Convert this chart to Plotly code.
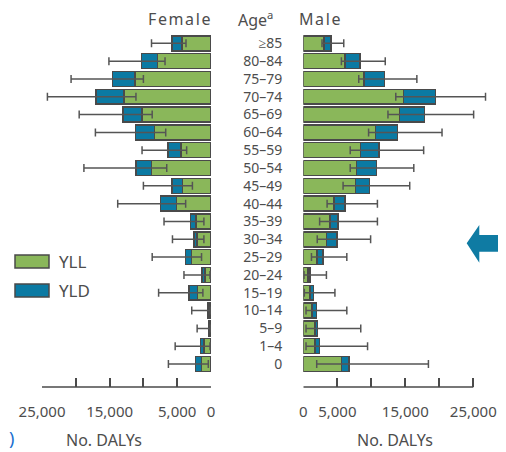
import plotly.graph_objects as go

# ---------------- data (top row first) ----------------
ages = ["≥85", "80–84", "75–79", "70–74", "65–69", "60–64", "55–59", "50–54",
        "45–49", "40–44", "35–39", "30–34", "25–29", "20–24", "15–19",
        "10–14", "5–9", "1–4", "0"]

female_yll = [4300, 7950, 11250, 12900, 10200, 8350, 4450, 8800, 4200, 5100,
              2200, 2050, 2850, 900, 2000, 300, 250, 1050, 1400]
female_yld = [1500, 2300, 3300, 4100, 2850, 2800, 1900, 2300, 1550, 2350,
              800, 450, 900, 400, 1250, 180, 130, 500, 900]
female_lo = [3700, 6800, 10000, 11100, 8700, 6700, 3600, 6550, 2750, 3750,
             1050, 1050, 1400, 150, 1200, 100, 100, 150, 400]
female_hi = [8800, 15100, 20700, 24200, 19500, 17100, 10200, 18800, 10000, 13800,
             6950, 5700, 8700, 4000, 7750, 2850, 2050, 5300, 6300]

male_yll = [3050, 6150, 8900, 14750, 14150, 10600, 8400, 7800, 7650, 4500,
            3900, 3400, 2000, 700, 1000, 1300, 1700, 1700, 5650]
male_yld = [1000, 2200, 3050, 4700, 3700, 3250, 2750, 2950, 2100, 1600,
            1200, 1550, 900, 250, 500, 650, 400, 650, 1100]
male_lo = [2750, 5600, 8150, 13600, 12450, 9600, 6900, 6900, 5850, 3500,
           2400, 2050, 1200, 100, 150, 400, 400, 400, 1970]
male_hi = [5950, 12050, 16700, 26800, 25050, 20400, 17700, 16250, 15650, 10900,
           10900, 9900, 6400, 3400, 4650, 6400, 8450, 9450, 18400]

label_vals = [0, 5000, 15000, 25000]
label_text = ["0", "5,000", "15,000", "25,000"]
minor_vals = [10000, 20000]

# ---------------- styling ----------------
OFF = 8                      # default page margin around the figure
W, H = 506 - OFF, 452 - OFF
GREEN = "#8ab75a"
BLUE = "#0b7aa3"
EDGE = "#4a4a4a"
TXT = "#4d4d4d"
FONT = "Noto Sans"

def px(x):
    return (x - OFF) / W

def py(y):
    return 1 - (y - OFF) / H

fig = go.Figure()

def add_side(yll, yld, lo, hi, xa, ya):
    total = [a + b for a, b in zip(yll, yld)]
    fig.add_trace(go.Bar(y=ages, x=yll, orientation="h", marker_color=GREEN,
                         marker_line=dict(color=EDGE, width=1.5), xaxis=xa, yaxis=ya,
                         showlegend=False, name="YLL"))
    fig.add_trace(go.Bar(y=ages, x=yld, orientation="h", marker_color=BLUE,
                         marker_line=dict(color=EDGE, width=1.5), xaxis=xa, yaxis=ya,
                         showlegend=False, name="YLD"))
    fig.add_trace(go.Scatter(
        y=ages, x=total, mode="markers", marker=dict(size=1, opacity=0),
        xaxis=xa, yaxis=ya, showlegend=False, hoverinfo="skip",
        error_x=dict(type="data", symmetric=False,
                     array=[h - t for h, t in zip(hi, total)],
                     arrayminus=[t - l for t, l in zip(total, lo)],
                     color="#555555", thickness=1.5, width=4)))

add_side(female_yll, female_yld, female_lo, female_hi, "x", "y")
add_side(male_yll, male_yld, male_lo, male_hi, "x2", "y2")

ydom = [py(387), py(34.4)]
yrange = [-1.29, 18.5]
cat_bottom_up = ages[::-1]

axis_font = dict(family=FONT, size=15, color=TXT)

def xaxis_style(domain, rng, anchor):
    return dict(domain=domain, range=rng, tickmode="array", tickvals=label_vals,
                ticktext=label_text, ticks="inside", ticklen=9, tickwidth=1.5,
                tickcolor=EDGE, showgrid=False, zeroline=False, showline=False,
                tickfont=axis_font, ticklabelstandoff=14, anchor=anchor,
                automargin=False,
                minor=dict(tickmode="array", tickvals=minor_vals, ticks="inside",
                           ticklen=9, tickwidth=1.5, tickcolor=EDGE, showgrid=False))

fig.update_layout(
    width=W, height=H, margin=dict(l=0, r=0, t=0, b=0, autoexpand=False),
    paper_bgcolor="white", plot_bgcolor="white",
    barmode="stack", bargap=0.16,
    font=dict(family=FONT, color=TXT),
    xaxis=xaxis_style([px(42), px(211)], [25000, 0], "y"),
    xaxis2=xaxis_style([px(303.3), px(303.3 + 27000 / 25000 * 170)], [0, 27000], "y2"),
    yaxis=dict(domain=ydom, type="category", categoryorder="array",
               categoryarray=cat_bottom_up, range=yrange, showticklabels=False,
               showgrid=False, zeroline=False, showline=False, ticks="", anchor="x",
               automargin=False),
    yaxis2=dict(domain=ydom, type="category", categoryorder="array",
                categoryarray=cat_bottom_up, range=yrange, showticklabels=True,
                tickmode="array", tickvals=ages, ticktext=ages,
                showgrid=False, zeroline=False, showline=False, ticks="",
                tickfont=dict(family=FONT, size=14, color=TXT),
                ticklabelstandoff=20, anchor="x2", automargin=False),
)

# axis base lines (0 to 25,000 on each side)
for xr in ("x", "x2"):
    fig.add_shape(type="line", xref=xr, yref="paper", x0=0, x1=25000,
                  y0=ydom[0], y1=ydom[0], line=dict(color=EDGE, width=1.5))

# headers and axis titles
def note(text, x, y, size=15, anchor="left", color=TXT):
    fig.add_annotation(text=text, x=px(x), y=py(y), xref="paper", yref="paper",
                       xanchor=anchor, yanchor="middle", showarrow=False,
                       font=dict(family=FONT, size=size, color=color))

note("F\u200ae\u200am\u200aa\u200al\u200ae", 146, 19, size=16)
note("Age<sup>a</sup>", 236, 19, size=16)
note("M\u200aa\u200al\u200ae", 297, 19, size=16)
note("No. DALYs", 104, 440, size=16, anchor="center")
note("No. DALYs", 395, 440, size=16, anchor="center")

# legend
for (label, col, yc) in (("YLL", GREEN, 261.5), ("YLD", BLUE, 290.5)):
    fig.add_shape(type="rect", xref="paper", yref="paper",
                  x0=px(15), x1=px(49), y0=py(yc + 6.5), y1=py(yc - 6.5),
                  fillcolor=col, line=dict(color=EDGE, width=1.5))
    note(label, 57, yc, size=17)

# arrow on the right
pts = [(466.7, 243.3), (479.3, 225), (479.3, 235), (506, 235),
       (506, 251.7), (479.3, 251.7), (479.3, 262.7)]
path = "M " + " L ".join(f"{px(x)},{py(y)}" for x, y in pts) + " Z"
fig.add_shape(type="path", xref="paper", yref="paper", path=path,
              fillcolor="#0f7ba3", line=dict(width=0))

# cut-off blue glyph at bottom-left
note(")", 11, 438, size=18, anchor="center", color="#1a6fd0")

fig.write_html("out.html")
